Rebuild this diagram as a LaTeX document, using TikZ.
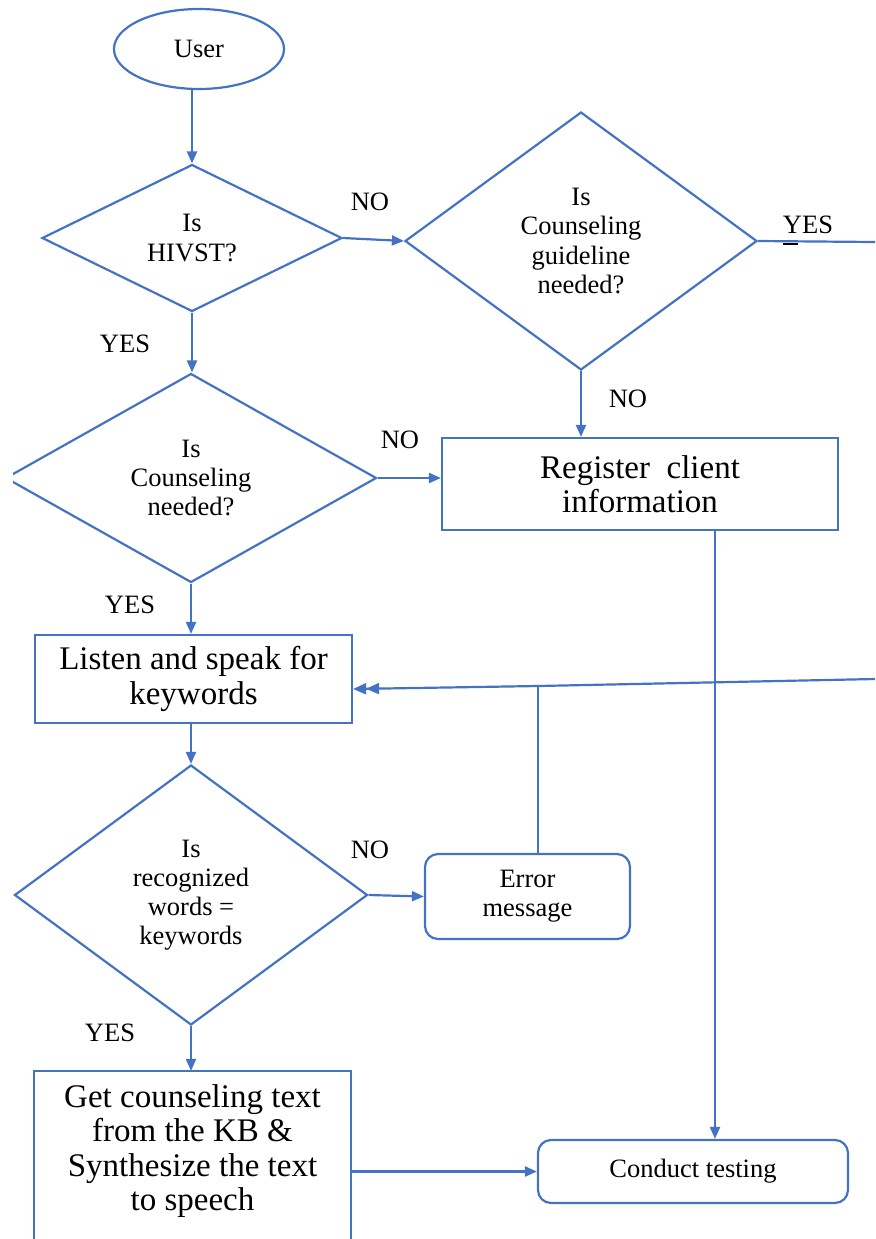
\documentclass[tikz,border=0pt]{standalone}
\usepackage{fontspec}
\setmainfont{LiberationSerif}[Extension=.ttf,UprightFont=*-Regular,BoldFont=*-Bold,ItalicFont=*-Italic]
\usetikzlibrary{shapes.geometric,arrows.meta,calc}
\definecolor{flowblue}{HTML}{4472C4}
\begin{document}
\begin{tikzpicture}[x=0.5pt,y=-0.5pt,
  flowline/.style={draw=flowblue,line width=1.1pt},
  arr/.style={flowline,-{Triangle[length=6pt,width=5pt]}},
  dblarr/.style={flowline,-{Triangle[length=6.5pt,width=5.5pt]Triangle[length=6.5pt,width=5.5pt]}},
  small/.style={font=\fontsize{13.25pt}{14.6pt}\selectfont},
  big/.style={font=\fontsize{16.5pt}{17.15pt}\selectfont},
  decision/.style={flowline,diamond,aspect=1.4,inner sep=0pt,align=center,small},
  procbox/.style={flowline,rectangle,inner sep=0pt,align=center,big},
  roundbox/.style={flowline,rectangle,rounded corners=6.5pt,inner sep=0pt,align=center,small},
  lbl/.style={small,inner sep=0pt},
]
\useasboundingbox (0,0) rectangle (875,1239);
\clip (13,0) rectangle (875,1239);

% shapes
\node[flowline,ellipse,minimum width=85pt,minimum height=40pt,inner sep=0pt,small] (user) at (199,49) {User};
\node[decision,minimum width=150pt,minimum height=73.5pt] (d1) at (192,238) {Is\\HIVST?};
\node[decision,minimum width=176pt,minimum height=129pt] (d2) at (581,241) {Is\\Counseling\\guideline\\needed?};
\node[decision,minimum width=185.5pt,minimum height=104.5pt] (d3) at (191,478) {Is\\Counseling\\needed?};
\node[procbox,minimum width=198pt,minimum height=46pt] (reg) at (640,484) {Register\ \ client\\information};
\node[procbox,minimum width=158.5pt,minimum height=44pt] (listen) at (193.5,679) {Listen and speak for\\keywords};
\node[decision,minimum width=176.5pt,minimum height=130pt] (d4) at (191,895) {Is\\recognized\\words =\\keywords};
\node[roundbox,minimum width=102.5pt,minimum height=42.5pt] (err) at (527.5,896.5) {Error\\message};
\node[procbox,draw=none,minimum width=157.5pt,minimum height=79pt] (get) at (192.5,1151) {Get counseling text\\from the KB \&\\Synthesize the text\\to speech};
\node[roundbox,minimum width=155pt,minimum height=31.5pt] (conduct) at (693,1171.5) {Conduct testing};

% open-bottomed frame of the speech box
\coordinate (bot) at (0,1260);
\draw[flowline] (get.north west |- bot) -- (get.north west) -- (get.north east) -- (get.north east |- bot);

% helper coordinates
\coordinate (yesout) at (875,242);
\coordinate (fbR) at (875,679);
\coordinate (fbJ) at (538,686);
\coordinate (tx) at (715,0);

% connectors
\draw[arr] (d1.north |- user.south) -- (d1.north);
\draw[arr] (d1.east) -- (d2.west);
\draw[flowline] (d2.east) -- (yesout);
\draw[arr] (d2.south) -- (d2.south |- reg.north);
\draw[arr] (d1.south) -- (d1.south |- d3.north);
\draw[arr] (d3.east) -- (d3.east -| reg.west);
\draw[arr] (d3.south) -- (d3.south |- listen.north);
\draw[arr] (listen.south -| d4.north) -- (d4.north);
\draw[dblarr] (fbR) -- (fbJ) -- ($(listen.east)+(0,10)$);
\draw[flowline] (err.north -| fbJ) -- (fbJ);
\draw[arr] (d4.east) -- (err.west);
\draw[arr] (d4.south) -- (d4.south |- get.north);
\draw[arr] (reg.south -| tx) -- (conduct.north -| tx);
\draw[arr] (get.east |- conduct.west) -- (conduct.west);

% branch labels
\node[lbl] (no1) at (370,202) {NO};
\node[lbl] (yes1) at (808,225) {YES};
\draw[black,line width=1.2pt] (783,244) -- (798,244);
\node[lbl] (no2) at (628,399) {NO};
\node[lbl] (yes2) at (125,344) {YES};
\node[lbl] (no3) at (400,440) {NO};
\node[lbl] (yes3) at (130,605) {YES};
\node[lbl] (no4) at (370,850) {NO};
\node[lbl] (yes4) at (110,1033) {YES};
\end{tikzpicture}
\end{document}
